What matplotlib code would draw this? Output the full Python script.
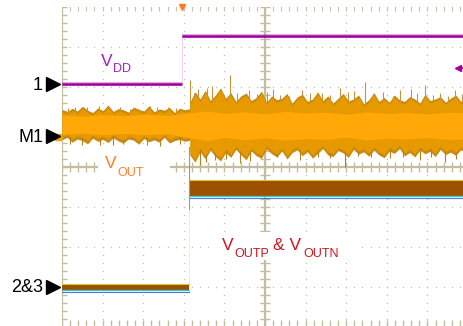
import numpy as np
import matplotlib.pyplot as plt
from matplotlib.patches import Rectangle

# scope screen: time in divisions (0..10), amplitude in divisions (-4..4, 0 = centre)
vdd_step = 2.96
vdd_low = 2.075
vdd_high = 3.275

# VOUT noise envelope before the step
vout_top_pre = [1.44, 1.38, 1.47, 1.40, 1.52, 1.42, 1.36, 1.48, 1.41, 1.55, 1.39, 1.46, 1.43,
                1.37, 1.50, 1.44, 1.40, 1.53, 1.38, 1.45, 1.42, 1.49, 1.36, 1.47, 1.43, 1.46]
vout_bot_pre = [0.68, 0.74, 0.62, 0.70, 0.66, 0.58, 0.72, 0.64, 0.69, 0.61, 0.73, 0.65, 0.60,
                0.70, 0.67, 0.57, 0.71, 0.63, 0.68, 0.62, 0.74, 0.60, 0.66, 0.69, 0.64, 0.67]
# VOUT noise envelope after the step
vout_top_post = [1.62, 1.88, 1.70, 1.92, 1.66, 1.80, 1.98, 1.72, 1.86, 1.64, 1.78, 1.85, 1.66,
                 1.74, 1.90, 1.62, 1.78, 1.68, 1.72, 1.84, 1.60, 1.75, 1.82, 1.64, 1.70, 1.88,
                 1.66, 1.78, 1.60, 1.72, 1.84, 1.65, 1.70, 1.80, 1.58, 1.68, 1.86, 1.64, 1.74,
                 1.62, 1.80, 1.68, 1.64, 1.76, 1.70, 1.60, 1.82, 1.66, 1.70, 1.76, 1.62, 1.72,
                 1.80, 1.64, 1.68, 1.74, 1.66]
vout_bot_post = [0.30, 0.12, 0.38, 0.20, 0.42, 0.26, 0.15, 0.36, 0.24, 0.44, 0.30, 0.18, 0.40,
                 0.28, 0.22, 0.45, 0.33, 0.25, 0.40, 0.20, 0.36, 0.43, 0.28, 0.38, 0.22, 0.34,
                 0.46, 0.30, 0.26, 0.41, 0.35, 0.24, 0.44, 0.32, 0.38, 0.27, 0.42, 0.30, 0.23,
                 0.40, 0.34, 0.46, 0.28, 0.36, 0.25, 0.42, 0.33, 0.39, 0.26, 0.44, 0.31, 0.37,
                 0.29, 0.43, 0.35, 0.30, 0.40]
# bright core of the VOUT trace
core_top = [1.30, 1.27, 1.31, 1.28, 1.32, 1.29, 1.36, 1.40, 1.34, 1.38, 1.33, 1.39, 1.35,
            1.37, 1.32, 1.38, 1.34, 1.36, 1.33, 1.37, 1.35]
core_bot = [0.82, 0.85, 0.80, 0.84, 0.81, 0.83, 0.72, 0.66, 0.74, 0.68, 0.73, 0.67, 0.71,
            0.69, 0.75, 0.68, 0.72, 0.70, 0.74, 0.69, 0.71]
core_t = [0, 0.5, 1.0, 1.5, 2.0, 2.6, 3.2, 3.6, 4.0, 4.5, 5.0, 5.5, 6.0,
          6.5, 7.0, 7.5, 8.0, 8.5, 9.0, 9.5, 10.2]

# single noise spikes on VOUT
spk_up_t = [0.32, 0.9, 1.18, 1.67, 2.17, 2.6, 3.15, 3.35, 3.57, 3.9, 4.14, 4.6, 5.05,
            5.37, 5.9, 6.4, 6.85, 7.2, 7.46, 7.9, 8.33, 8.6, 8.94, 9.3, 9.68,
            0.15, 0.62, 1.42, 1.9, 2.35, 2.8, 3.25, 3.7, 4.3, 4.8, 5.2, 5.6, 6.1,
            6.6, 7.05, 7.65, 8.15, 8.75, 9.15, 9.5, 9.85]
spk_up_v = [1.50, 1.52, 1.48, 1.45, 1.53, 1.50, 2.18, 1.95, 1.98, 1.90, 2.30, 1.92, 1.88,
            1.80, 1.93, 1.85, 1.98, 1.90, 2.13, 1.88, 1.93, 1.95, 2.05, 1.86, 1.93,
            1.47, 1.49, 1.51, 1.46, 1.49, 1.47, 1.84, 2.02, 1.86, 1.82, 1.95, 1.78, 1.84,
            1.80, 1.87, 1.82, 1.78, 1.84, 1.80, 1.78, 1.82]
spk_dn_t = [0.5, 0.94, 1.5, 2.41, 2.9, 3.40, 3.77, 4.38, 4.9, 5.86, 6.3, 6.97, 7.6,
            8.08, 8.82, 9.43, 9.9, 0.2, 1.25, 2.1, 3.55, 4.05, 4.62, 5.3, 6.6, 7.3,
            8.4, 9.1, 9.7]
spk_dn_v = [0.56, 0.55, 0.58, 0.52, 0.57, 0.05, 0.18, 0.10, 0.22, 0.18, 0.25, 0.0, 0.24,
            0.22, 0.18, 0.12, 0.20, 0.58, 0.56, 0.55, 0.12, 0.20, 0.15, 0.26, 0.22, 0.28,
            0.24, 0.26, 0.21]

# VOUTP / VOUTN (overlapping traces)
pn_step = 3.13
pn_low = (-3.07, -2.93)
pn_high = (-0.72, -0.35)

fig = plt.figure(figsize=(4.64, 3.26), dpi=100)
ax = fig.add_axes([62 / 464, -1 / 326, 406 / 464, 320 / 326])
ax.set_xlim(0, 10)
ax.set_ylim(-4, 4)
ax.axis('off')

grid_c = '#C6C2AA'
minor = np.arange(-4, 4.01, 0.2)
minor_x = np.arange(0, 10.01, 0.2)
for gx in [1, 2, 3, 4, 6, 7, 8, 9]:
    ax.plot(np.full_like(minor, gx), minor, ls='none', marker='s', ms=0.9, mew=0, color=grid_c, zorder=1)
for gy in [-3, -2, -1, 1, 2, 3]:
    ax.plot(minor_x, np.full_like(minor_x, gy), ls='none', marker='s', ms=0.9, mew=0, color=grid_c, zorder=1)
ax.plot(minor_x, np.full_like(minor_x, 3.98), ls='none', marker='|', ms=4, mew=0.8, color=grid_c, zorder=1)

# centre cross and left/bottom borders with ticks
ax_c = '#C3BD9F'
ax.axvline(5, color=ax_c, lw=1.6, zorder=1)
ax.plot(np.full_like(minor, 5), minor, ls='none', marker='_', ms=7, mew=1, color=ax_c, zorder=1)
ax.axhline(0, color=ax_c, lw=1.6, zorder=1)
ax.plot(minor_x, np.zeros_like(minor_x), ls='none', marker='|', ms=7, mew=1, color=ax_c, zorder=1)
ax.axvline(0, color=ax_c, lw=1.6, zorder=1)
ax.plot(np.zeros_like(minor), minor, ls='none', marker='_', ms=7, mew=1, color=ax_c, zorder=1)
ax.plot(minor_x, np.full_like(minor_x, -3.96), ls='none', marker='|', ms=7, mew=1, color=ax_c, zorder=1)

# VDD
for x0, x1, lev in [(0, vdd_step, vdd_low), (vdd_step, 10.2, vdd_high)]:
    ax.plot([x0, x1], [lev, lev], color='#A000A0', lw=3, alpha=0.3, zorder=3, solid_capstyle='butt')
    ax.plot([x0, x1], [lev, lev], color='#A000A0', lw=1.8, zorder=3, solid_capstyle='butt')
ax.plot([vdd_step, vdd_step], [vdd_low, vdd_high], color='#F0D0F0', lw=0.7, zorder=2)

# VOUT
t_pre = np.linspace(0, 3.15, len(vout_top_pre))
t_post = np.linspace(3.15, 10.2, len(vout_top_post))
for t, top, bot in [(t_pre, vout_top_pre, vout_bot_pre), (t_post, vout_top_post, vout_bot_post)]:
    ax.fill_between(t, bot, top, color='#C98A10', lw=0, zorder=4)
ax.vlines(spk_up_t, 1.05, spk_up_v, color='#C8923A', lw=0.8, zorder=4)
ax.vlines(spk_dn_t, spk_dn_v, 1.05, color='#B8801A', lw=0.8, zorder=4)
for t, top, bot in [(t_pre, vout_top_pre, vout_bot_pre), (t_post, vout_top_post, vout_bot_post)]:
    ax.fill_between(t, np.array(bot) + 0.08, np.array(top) - 0.06, color='#E69A00', lw=0, zorder=5)
ax.fill_between(core_t, core_bot, core_top, color='#FFA808', lw=0, zorder=6)
ax.plot([pn_step, pn_step], [0.5, -1.05], color='#C8923A', lw=0.8, zorder=6)
ax.plot([pn_step, pn_step], [-1.05, -2.95], color='#F0E6DA', lw=0.6, zorder=2)

# VOUTP & VOUTN
for x0, x1, (lo, hi) in [(0, pn_step, pn_low), (pn_step, 10.2, pn_high)]:
    ax.fill_between([x0, x1], [lo, lo], [hi, hi], color='#9C5000', lw=0, zorder=5)
    ax.plot([x0, x1], [hi + 0.015, hi + 0.015], color='#D8C830', lw=0.8, zorder=5)
    ax.plot([x0, x1], [lo - 0.045, lo - 0.045], color='#2858C0', lw=0.8, alpha=0.8, zorder=5)
    ax.plot([x0, x1], [lo - 0.015, lo - 0.015], color='#30C8E0', lw=1.0, zorder=5)

# markers on the screen edges
ax.plot(vdd_step, 3.99, marker='v', ms=5, color='#FF7A20', clip_on=False, zorder=7)
ax.plot([9.75, 9.92], [2.475, 2.475], color='#A000A0', lw=1.3, clip_on=False, zorder=7)
ax.plot(9.75, 2.475, marker='<', ms=4, color='#A000A0', clip_on=False, zorder=7)
ax.plot(-0.09, 0.75, marker='s', ms=5, color='#F0A000', clip_on=False, zorder=7)
for my in [vdd_low, 0.775, -3.0]:
    ax.plot(-0.21, my, marker='>', ms=9.5, color='black', clip_on=False, zorder=8)


def fx(px):
    return px / 464


def fy(py):
    return 1 - py / 326


font = 'Liberation Sans'
fig.text(fx(43), fy(89.5), '1', ha='right', va='baseline', fontsize=13, family=font)
fig.text(fx(43), fy(142), 'M1', ha='right', va='baseline', fontsize=13, family=font)
fig.text(fx(43), fy(292.5), '2&3', ha='right', va='baseline', fontsize=13, family=font)

# white boxes behind the trace labels
for x0, y0, x1, y1 in [(98, 150, 170, 180), (216, 232, 360, 260)]:
    ax.add_patch(Rectangle((fx(x0), fy(y1)), fx(x1) - fx(x0), fy(y0) - fy(y1),
                           transform=fig.transFigure, fc='white', ec='none', zorder=9, clip_on=False))

purple = '#A020C8'
fig.text(fx(101), fy(65.5), 'V', fontsize=12.5, color=purple, family=font, zorder=10)
fig.text(fx(113.5), fy(72.5), 'DD', fontsize=9, color=purple, family=font, zorder=10)
orange = '#FF7F2A'
fig.text(fx(105), fy(168), 'V', fontsize=12.5, color=orange, family=font, zorder=10)
fig.text(fx(117), fy(176), 'OUT', fontsize=9, color=orange, family=font, zorder=10)
red = '#D0141E'
fig.text(fx(222), fy(250.5), 'V', fontsize=12.5, color=red, family=font, zorder=10)
fig.text(fx(234.5), fy(257), 'OUTP', fontsize=9, color=red, family=font, zorder=10)
fig.text(fx(273), fy(250.5), '& V', fontsize=12.5, color=red, family=font, zorder=10)
fig.text(fx(303.5), fy(257), 'OUTN', fontsize=9, color=red, family=font, zorder=10)

fig.savefig('out.png', dpi=100)
